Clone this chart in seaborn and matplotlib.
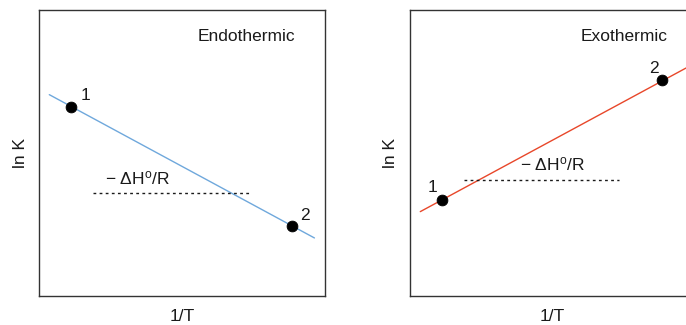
import matplotlib
matplotlib.use("Agg")
import matplotlib.pyplot as plt
import seaborn as sns
import pandas as pd

# van 't Hoff plots: ln K against 1/T (scaled 0..1 on both axes)
panels = ["Endothermic", "Exothermic"]

endo_line_x = [0.036, 0.963]
endo_line_y = [0.704, 0.203]
endo_pts_x = [0.112, 0.885]
endo_pts_y = [0.662, 0.245]

exo_line_x = [0.037, 0.966]
exo_line_y = [0.295, 0.797]
exo_pts_x = [0.113, 0.883]
exo_pts_y = [0.336, 0.754]

point_labels = ["1", "2"]
line_colors = ["#6fa8dc", "#e8472a"]

sns.set_style("white")
plt.rcParams["font.family"] = ["Liberation Sans", "DejaVu Sans"]
plt.rcParams["mathtext.fontset"] = "custom"
plt.rcParams["mathtext.rm"] = "Liberation Sans"
plt.rcParams["mathtext.it"] = "Liberation Sans:italic"

fig = plt.figure(figsize=(6.86, 3.25), dpi=100)
W, H = 686, 325
ax_l = fig.add_axes([39 / W, 29 / H, 286 / W, 286 / H])
ax_r = fig.add_axes([409.7 / W, 29 / H, 286 / W, 286 / H])

fs = 12.5
ink = "#1a1a1a"

def draw(ax, title, lx, ly, px, py, color, lab_pos, slope_y, slope_text):
    sns.lineplot(data=pd.DataFrame({"x": lx, "y": ly}), x="x", y="y",
                 color=color, linewidth=1.0, ax=ax)
    sns.scatterplot(data=pd.DataFrame({"x": px, "y": py}), x="x", y="y",
                    color="black", s=60, edgecolor="black", zorder=5, ax=ax)
    ax.plot([0.189, 0.733], [slope_y, slope_y], linestyle=(0, (2, 2.4)),
            color=ink, linewidth=1.0)
    ax.text(slope_text[0], slope_text[1], "\u2212 \u0394H$^{\\rm o}$/R",
            ha="center", va="center", fontsize=fs, color=ink)
    for lbl, (tx, ty) in zip(point_labels, lab_pos):
        ax.text(tx, ty, lbl, ha="center", va="center", fontsize=fs,
                color=ink)
    ax.text(title[1], 0.906, title[0], ha="center", va="center",
            fontsize=fs, color=ink)
    ax.set_xlim(0, 1)
    ax.set_ylim(0, 1)
    ax.set_xticks([])
    ax.set_yticks([])
    ax.set_xlabel("1/T", fontsize=fs, color=ink)
    ax.set_ylabel("ln K", fontsize=fs, color=ink)
    ax.xaxis.set_label_coords(0.5, -0.045)
    ax.yaxis.set_label_coords(-0.04, 0.5)
    for sp in ax.spines.values():
        sp.set_color("#333333")
        sp.set_linewidth(1.0)

draw(ax_l, (panels[0], 0.727), endo_line_x, endo_line_y, endo_pts_x,
     endo_pts_y, line_colors[0], [(0.161, 0.700), (0.930, 0.283)],
     0.360, (0.343, 0.413))
draw(ax_r, (panels[1], 0.749), exo_line_x, exo_line_y, exo_pts_x,
     exo_pts_y, line_colors[1], [(0.081, 0.379), (0.853, 0.794)],
     0.406, (0.499, 0.460))

fig.savefig("out.png", dpi=100)
